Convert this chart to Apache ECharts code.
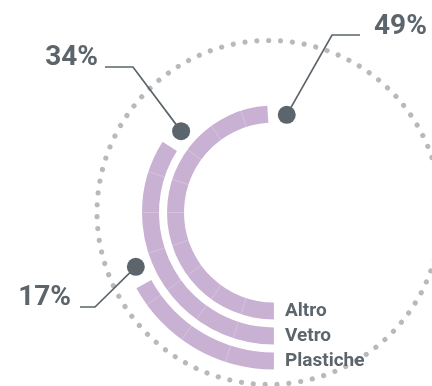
<!DOCTYPE html>
<html>
<head>
<meta charset="utf-8">
<script src="https://cdn.jsdelivr.net/npm/echarts@6/dist/echarts.min.js"></script>
<style>
  html, body { margin: 0; padding: 0; background: #fff; }
  #main { width: 432px; height: 386px; }
</style>
</head>
<body>
<div id="main"></div>
<script>
// data
var categories = ['Altro', 'Vetro', 'Plastiche'];
var shares = [49, 34, 17];

var dark = '#5b656b';
var lilac = '#c9b1d4';
var DOT_GAP = 19; // px between end of arc and the dot
var bandRadius = [98.5, 123.5, 148.5];

// leader lines / labels (pixel layout)
var leaders = [
    { elbow: [332, 35], end: [360, 35], text: [374, 27], align: 'left' },
    { elbow: [133, 67], end: [105, 67], text: [98, 58], align: 'right' },
    { elbow: [95, 307], end: [80, 307], text: [71, 298], align: 'right' }
];

var dotData = shares.map(function (v, i) {
    var gap = DOT_GAP / bandRadius[i] * 180 / Math.PI / 3.6;
    return [i, v + gap];
});

var option = {
    animation: false,
    polar: [
        { center: [274, 212.5], radius: [86, 161] },
        { center: [269, 212.5], radius: [0, 172] }
    ],
    angleAxis: [{
        polarIndex: 0,
        type: 'value',
        min: 0,
        max: 100,
        interval: 5,
        startAngle: 270,
        clockwise: true,
        z: 5,
        axisLine: { show: false },
        axisTick: { show: false },
        axisLabel: { show: false },
        splitLine: { show: true, lineStyle: { color: 'rgba(255,255,255,0.22)', width: 1 } }
    }, {
        polarIndex: 1,
        type: 'value',
        min: 0,
        max: 100,
        startAngle: 90,
        axisLine: {
            show: true,
            lineStyle: { color: '#b9b9bd', width: 5.2, type: [0.01, 11.9], cap: 'round' }
        },
        axisTick: { show: false },
        axisLabel: { show: false },
        splitLine: { show: false }
    }],
    radiusAxis: [{
        polarIndex: 0,
        type: 'category',
        data: categories,
        axisLine: { show: false },
        axisTick: { show: false },
        axisLabel: { show: false },
        splitLine: { show: false }
    }, {
        polarIndex: 1,
        type: 'value',
        show: false
    }],
    series: [{
        type: 'bar',
        coordinateSystem: 'polar',
        polarIndex: 0,
        barWidth: 17,
        data: shares,
        itemStyle: { color: lilac },
        z: 2
    }, {
        type: 'scatter',
        coordinateSystem: 'polar',
        polarIndex: 0,
        data: dotData,
        symbolSize: 18,
        itemStyle: { color: dark, opacity: 1 },
        z: 10
    }, {
        type: 'scatter',
        coordinateSystem: 'polar',
        polarIndex: 0,
        data: categories.map(function (c, i) { return [i, 0]; }),
        symbolSize: 1,
        itemStyle: { color: 'rgba(0,0,0,0)', opacity: 1 },
        label: {
            show: true,
            position: 'right',
            distance: 10.5,
            formatter: function (p) { return categories[p.dataIndex]; },
            fontFamily: 'Roboto',
            fontWeight: 'bold',
            fontSize: 19,
            color: dark,
            opacity: 1
        },
        z: 10
    }]
};

var myChart = echarts.init(document.getElementById('main'), null, { renderer: 'canvas' });
myChart.setOption(option);

// leader lines built from the dot positions
var graphics = [];
dotData.forEach(function (d, i) {
    var p = myChart.convertToPixel({ seriesIndex: 1 }, d);
    var L = leaders[i];
    graphics.push({
        type: 'polyline',
        shape: { points: [p, L.elbow, L.end] },
        style: { stroke: dark, lineWidth: 1.7, fill: null },
        z: 9
    });
    graphics.push({
        type: 'text',
        x: L.text[0],
        y: L.text[1],
        style: {
            text: shares[i] + '%',
            fontFamily: 'Roboto',
            fontWeight: 'bold',
            fontSize: 28,
            fill: dark,
            align: L.align,
            verticalAlign: 'middle'
        },
        z: 9
    });
});
myChart.setOption({ graphic: graphics });
</script>
</body>
</html>
